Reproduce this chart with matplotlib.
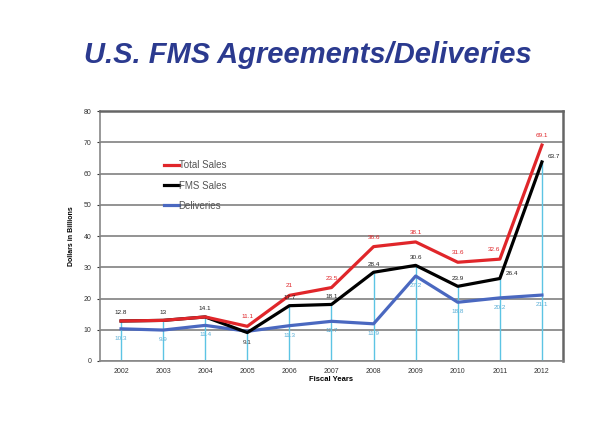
import matplotlib
matplotlib.use("Agg")
import matplotlib.pyplot as plt
import numpy as np

years = ["2002", "2003", "2004", "2005", "2006", "2007", "2008", "2009", "2010", "2011", "2012"]
total_sales = [12.8, 13.0, 14.1, 11.1, 21.0, 23.5, 36.6, 38.1, 31.6, 32.6, 69.1]
fms_sales = [12.8, 13.0, 14.1, 9.1, 17.7, 18.1, 28.4, 30.6, 23.9, 26.4, 63.7]
deliveries = [10.3, 9.9, 11.4, 9.5, 11.3, 12.7, 11.9, 27.2, 18.8, 20.2, 21.1]
yticks = [0, 10, 20, 30, 40, 50, 60, 70, 80]

plt.rcParams['font.family'] = ['Liberation Sans', 'DejaVu Sans']

fig = plt.figure(figsize=(5.9, 4.48), dpi=100)
fig.patch.set_facecolor('white')
ax = fig.add_axes([0.1695, 0.1942, 0.7847, 0.558])

x = np.arange(len(years))

RED = '#e0262a'
BLUE = '#4a68c0'
CYAN = '#5cc4e4'
GRID = '#8a8a8a'

# drop lines
ax.vlines(x, 0, fms_sales, colors=CYAN, linewidth=1.0, zorder=2)

ax.plot(x, deliveries, color=BLUE, linewidth=2.3, zorder=3, label='Deliveries')
ax.plot(x, fms_sales, color='black', linewidth=2.3, zorder=4, label='FMS Sales')
ax.plot(x, total_sales, color=RED, linewidth=2.3, zorder=5, label='Total Sales')

fs = 4.6
for i in range(len(years)):
    if total_sales[i] != fms_sales[i]:
        dx = -4 if i == 9 else 0
        ax.annotate(f"{total_sales[i]:g}", (x[i], total_sales[i]), xytext=(dx, 5),
                    textcoords='offset points', ha='center', va='bottom',
                    fontsize=fs, color=RED, zorder=6)
    if i == 3:
        ax.annotate(f"{fms_sales[i]:g}", (x[i], fms_sales[i]), xytext=(0, -5),
                    textcoords='offset points', ha='center', va='top',
                    fontsize=fs, color='#333333', zorder=6)
    elif i >= 9:
        ax.annotate(f"{fms_sales[i]:g}", (x[i], fms_sales[i]), xytext=(4, 2),
                    textcoords='offset points', ha='left', va='bottom',
                    fontsize=fs, color='#222222', zorder=6)
    else:
        ax.annotate(f"{fms_sales[i]:g}", (x[i], fms_sales[i]), xytext=(0, 4),
                    textcoords='offset points', ha='center', va='bottom',
                    fontsize=fs, color='#222222', zorder=6)
    if i != 3:
        ax.annotate(f"{deliveries[i]:g}", (x[i], deliveries[i]), xytext=(0, -5),
                    textcoords='offset points', ha='center', va='top',
                    fontsize=fs, color='#5aaed6', zorder=6)

ax.set_xlim(-0.5, len(years) - 0.5)
ax.set_ylim(0, 80)
ax.set_yticks(yticks)
ax.set_xticks(x)
ax.set_xticklabels(years)
ax.tick_params(axis='both', labelsize=5, colors='#333333', length=2.5, width=0.8)
ax.tick_params(axis='x', length=0, pad=5)

ax.grid(axis='y', color=GRID, linewidth=1.3, zorder=1)
ax.set_axisbelow(True)
for side in ['top', 'right']:
    ax.spines[side].set_color('#666666')
    ax.spines[side].set_linewidth(1.8)
for side in ['left', 'bottom']:
    ax.spines[side].set_color('#888888')
    ax.spines[side].set_linewidth(1.2)

ax.set_xlabel('Fiscal Years', fontsize=5.5, fontweight='bold', labelpad=1)
ax.set_ylabel('Dollars in Billions', fontsize=5, fontweight='bold', labelpad=6)

handles, labels = ax.get_legend_handles_labels()
order = [2, 1, 0]
leg = ax.legend([handles[i] for i in order], [labels[i] for i in order],
                loc='upper left', bbox_to_anchor=(0.13, 0.818), frameon=False,
                fontsize=7, handlelength=1.5, handletextpad=0.0,
                labelspacing=1.05, borderaxespad=0)
for t in leg.get_texts():
    t.set_color('#555555')

fig.text(0.522, 0.877, 'U.S. FMS Agreements/Deliveries', ha='center', va='center',
         fontsize=21, fontweight='bold', fontstyle='italic', color='#2b3a8f')

fig.savefig('out.png', dpi=100, facecolor='white')
